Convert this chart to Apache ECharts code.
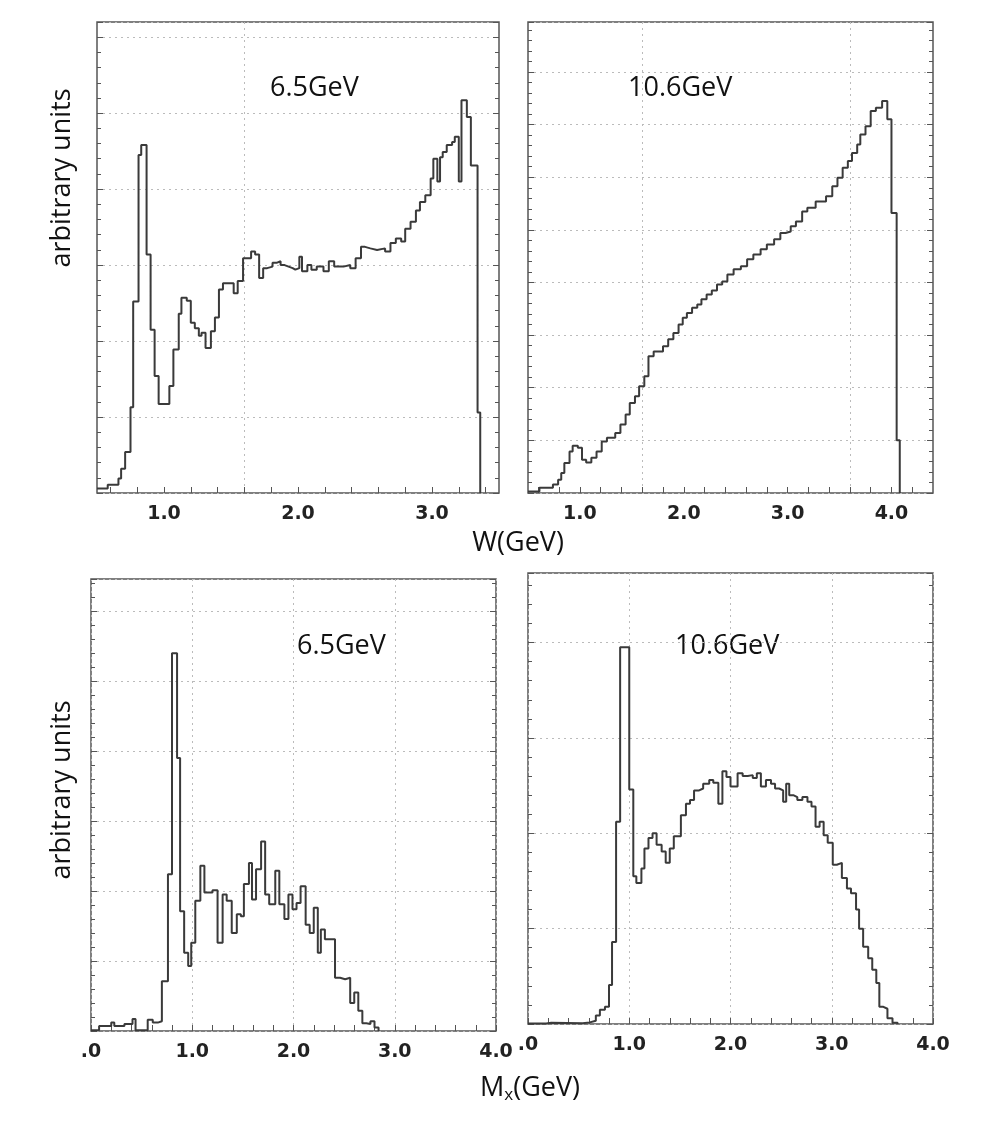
<!DOCTYPE html>
<html><head><meta charset="utf-8">
<script src="https://cdn.jsdelivr.net/npm/echarts@6/dist/echarts.min.js"></script>
<style>html,body{margin:0;padding:0;background:#fff}#c{width:998px;height:1128px}</style>
</head><body><div id="c"></div>
<script>
// Top-left: W distribution, 6.5 GeV (bin left edges in GeV, heights in arbitrary units)
const wEdges65 = [0.50,0.58,0.66,0.68,0.71,0.75,0.77,0.81,0.83,0.87,
  0.90,0.93,0.96,1.04,1.07,1.11,1.13,1.17,1.20,1.23,
  1.26,1.28,1.31,1.35,1.38,1.41,1.44,1.48,1.52,1.55,
  1.59,1.62,1.65,1.68,1.71,1.74,1.77,1.81,1.84,1.87,
  1.90,1.93,1.96,1.98,2.01,2.03,2.07,2.10,2.14,2.19,
  2.23,2.27,2.34,2.39,2.43,2.47,2.50,2.54,2.59,2.65,
  2.69,2.73,2.77,2.80,2.84,2.88,2.91,2.95,2.99,3.01,
  3.04,3.06,3.08,3.11,3.15,3.17,3.20,3.22,3.26,3.29,
  3.34,3.36];
const wVals65 = [0.06,0.11,0.19,0.32,0.54,1.13,2.52,4.45,4.58,3.14,
  2.15,1.54,1.17,1.41,1.89,2.36,2.57,2.53,2.24,2.17,
  2.07,2.11,1.91,2.13,2.31,2.68,2.76,2.76,2.63,2.79,
  3.09,3.09,3.18,3.14,2.83,2.96,2.98,3.03,3.05,3.00,
  2.98,2.96,2.94,2.96,3.11,2.92,3.00,2.94,2.98,2.92,
  3.05,2.98,3.00,2.96,3.09,3.24,3.22,3.20,3.22,3.18,
  3.29,3.35,3.31,3.48,3.57,3.72,3.83,3.92,4.14,4.40,
  4.10,4.42,4.49,4.58,4.62,4.69,4.10,5.17,4.95,4.31,
  1.06];
// Top-right: W distribution, 10.6 GeV
const wEdges106 = [0.50,0.61,0.74,0.79,0.82,0.85,0.90,0.93,0.98,1.02,
  1.06,1.11,1.16,1.21,1.26,1.34,1.39,1.44,1.48,1.53,
  1.57,1.62,1.66,1.71,1.80,1.85,1.90,1.95,1.99,2.03,
  2.08,2.13,2.17,2.22,2.27,2.32,2.37,2.42,2.48,2.55,
  2.61,2.67,2.74,2.80,2.87,2.93,2.98,3.03,3.08,3.14,
  3.19,3.27,3.37,3.43,3.48,3.53,3.58,3.62,3.67,3.70,
  3.75,3.80,3.85,3.91,3.96,4.00,4.05,4.08];
const wVals106 = [0.03,0.10,0.16,0.25,0.38,0.57,0.79,0.90,0.86,0.63,
  0.58,0.67,0.79,0.98,1.05,1.14,1.30,1.49,1.71,1.84,
  2.03,2.22,2.60,2.69,2.79,2.92,3.04,3.20,3.33,3.42,
  3.52,3.58,3.68,3.77,3.85,3.96,4.02,4.15,4.25,4.31,
  4.44,4.53,4.63,4.72,4.82,4.94,4.97,5.07,5.16,5.35,
  5.42,5.54,5.64,5.83,5.99,6.18,6.31,6.46,6.62,6.81,
  6.97,7.26,7.32,7.45,7.10,5.32,1.00];
// Bottom-left: Mx distribution, 6.5 GeV
const mEdges65 = [0.00,0.08,0.20,0.23,0.33,0.41,0.44,0.56,0.61,0.66,
  0.70,0.76,0.80,0.85,0.88,0.92,0.96,0.99,1.03,1.08,
  1.12,1.20,1.25,1.30,1.34,1.39,1.44,1.48,1.51,1.56,
  1.59,1.63,1.68,1.72,1.76,1.82,1.86,1.91,1.95,1.99,
  2.03,2.07,2.12,2.16,2.20,2.24,2.27,2.31,2.41,2.46,
  2.51,2.56,2.60,2.64,2.68,2.72,2.76,2.80,2.84];
const mVals65 = [0.01,0.07,0.12,0.07,0.10,0.17,0.01,0.16,0.12,0.14,
  0.71,2.24,5.40,3.90,1.71,1.12,0.93,1.26,1.86,2.36,
  1.98,2.01,1.26,1.95,1.86,1.40,1.67,1.64,2.10,2.40,
  1.88,2.31,2.71,1.95,1.81,2.29,1.81,1.60,1.95,1.74,
  1.83,2.07,1.52,1.40,1.76,1.12,1.45,1.31,0.76,0.74,
  0.76,0.40,0.55,0.29,0.11,0.10,0.14,0.05];
// Bottom-right: Mx distribution, 10.6 GeV
const mEdges106 = [0.00,0.18,0.23,0.54,0.61,0.67,0.71,0.76,0.80,0.83,
  0.87,0.91,1.00,1.04,1.07,1.12,1.15,1.19,1.23,1.27,
  1.32,1.36,1.40,1.44,1.51,1.56,1.60,1.64,1.69,1.73,
  1.79,1.83,1.88,1.92,1.96,2.00,2.07,2.12,2.17,2.22,
  2.26,2.30,2.35,2.40,2.44,2.48,2.52,2.55,2.58,2.62,
  2.66,2.71,2.76,2.80,2.84,2.88,2.92,2.96,3.01,3.05,
  3.10,3.15,3.19,3.24,3.27,3.31,3.36,3.40,3.44,3.47,
  3.51,3.55,3.60,3.65];
const mVals106 = [0.005,0.014,0.007,0.017,0.035,0.09,0.15,0.18,0.41,0.86,
  2.12,3.95,2.46,1.55,1.48,1.63,1.84,1.95,2.00,1.88,
  1.81,1.69,1.84,1.97,2.19,2.31,2.35,2.45,2.47,2.52,
  2.56,2.53,2.31,2.65,2.59,2.49,2.63,2.60,2.61,2.58,
  2.63,2.49,2.56,2.52,2.47,2.45,2.33,2.52,2.40,2.38,
  2.35,2.38,2.33,2.28,2.07,2.12,1.98,1.90,1.67,1.69,
  1.53,1.42,1.37,1.20,1.00,0.81,0.69,0.57,0.43,0.18,
  0.16,0.06,0.014];
const xTickLabels = [1, 2, 3, 4];
const panelTitles = ['6.5GeV', '10.6GeV', '6.5GeV', '10.6GeV'];

function hist(edges, vals) {
  const pts = [];
  for (let i = 0; i < vals.length; i++) pts.push([edges[i], vals[i]]);
  pts.push([edges[vals.length], 0]);
  return pts;
}
const panels = [
  {grid:{left:97,top:22,width:402,height:471}, xmin:0.5, xmax:3.5, ymax:6.2, data:hist(wEdges65,wVals65), fine:true},
  {grid:{left:528,top:22,width:405,height:471}, xmin:0.5, xmax:4.4, ymax:8.95, data:hist(wEdges106,wVals106), fine:true},
  {grid:{left:91,top:579,width:405,height:452}, xmin:0, xmax:4, ymax:6.46, data:hist(mEdges65,mVals65), fine:false},
  {grid:{left:528,top:573,width:405,height:451}, xmin:0, xmax:4, ymax:4.73, data:hist(mEdges106,mVals106), fine:false}
];
const gridC = '#bbb';
const grids = [], xAxes = [], yAxes = [], series = [];
panels.forEach((p, i) => {
  grids.push(Object.assign({show:true, borderColor:'#555', borderWidth:1.5, backgroundColor:'#fff'}, p.grid));
  const tickVals = [];
  for (let v = Math.ceil(p.xmin*5+0.001); v/5 < p.xmax - 0.001; v++) tickVals.push(+(v/5).toFixed(2));
  const lbl = {show:true, fontSize:19, fontWeight:'bold', color:'#222', fontFamily:'DejaVu Sans', margin:12,
    formatter: v => (p.fine ? v.toFixed(1) : (v === 0 ? '.0' : v.toFixed(1)))};
  if (p.fine) {
    const colors = [];
    for (let k = 0; k < 10; k++) colors.push(k === 5 ? gridC : 'rgba(0,0,0,0)');
    xAxes.push({gridIndex:i, type:'value', min:p.xmin, max:p.xmax, interval:0.1,
      axisLine:{show:false},
      axisTick:{show:true, inside:true, length:6, customValues:tickVals, lineStyle:{color:'#555'}},
      axisLabel:Object.assign({customValues:xTickLabels.filter(v => v > p.xmin && v < p.xmax)}, lbl),
      splitLine:{show:true, lineStyle:{color:colors, type:[2,4], width:1}}});
  } else {
    xAxes.push({gridIndex:i, type:'value', min:p.xmin, max:p.xmax, interval:1,
      axisLine:{show:false},
      axisTick:{show:true, inside:true, length:6, lineStyle:{color:'#555'}},
      minorTick:{show:true, splitNumber:5, length:6, lineStyle:{color:'#555'}},
      axisLabel:lbl,
      splitLine:{show:true, lineStyle:{color:gridC, type:[2,4], width:1}}});
  }
  const yBase = {gridIndex:i, type:'value', min:0, max:p.ymax, interval:1,
    axisLine:{show:false}, axisLabel:{show:false},
    axisTick:{show:true, inside:true, length:6, lineStyle:{color:'#555'}},
    minorTick:{show:true, splitNumber:5, length:4, lineStyle:{color:'#555'}}};
  yAxes.push(Object.assign({position:'left', splitLine:{show:true, lineStyle:{color:gridC, type:[2,4], width:1}}}, yBase));
  yAxes.push(Object.assign({position:'right', splitLine:{show:false}}, yBase));
  series.push({type:'line', xAxisIndex:i, yAxisIndex:2*i, step:'end', symbol:'none', data:p.data,
    lineStyle:{color:'#3a3a3a', width:2}, animation:false, z:3});
});
const tFont = {fontSize:27, fontFamily:'Open Sans', fill:'#111'};
const graphic = [
  {type:'text', left:270, top:75, style:Object.assign({text:panelTitles[0]}, tFont)},
  {type:'text', left:628, top:75, style:Object.assign({text:panelTitles[1]}, tFont)},
  {type:'text', left:297, top:633, style:Object.assign({text:panelTitles[2]}, tFont)},
  {type:'text', left:675, top:633, style:Object.assign({text:panelTitles[3]}, tFont)},
  {type:'text', x:62, y:178, rotation:Math.PI/2, style:Object.assign({text:'arbitrary units', align:'center', verticalAlign:'middle'}, tFont)},
  {type:'text', x:62, y:790, rotation:Math.PI/2, style:Object.assign({text:'arbitrary units', align:'center', verticalAlign:'middle'}, tFont)},
  {type:'text', x:518, y:543, style:Object.assign({text:'W(GeV)', align:'center', verticalAlign:'middle'}, tFont)},
  {type:'text', x:530, y:1088, style:{text:'M{s|x}(GeV)', align:'center', verticalAlign:'middle', fontSize:27, fontFamily:'Open Sans', fill:'#111',
    rich:{s:{fontSize:17, fontFamily:'Open Sans', fill:'#111', padding:[14,0,0,0]}}}}
];
const chart = echarts.init(document.getElementById('c'), null, {renderer:'canvas'});
chart.setOption({animation:false, grid:grids, xAxis:xAxes, yAxis:yAxes, series:series, graphic:graphic});
</script></body></html>
